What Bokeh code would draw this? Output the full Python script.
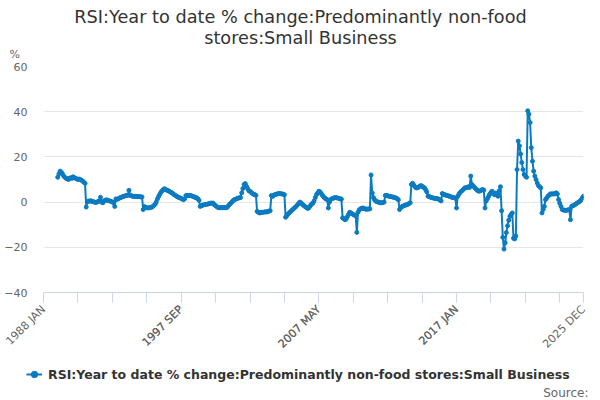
from math import pi
from bokeh.plotting import figure
from bokeh.layouts import column
from bokeh.models import Range1d, FixedTicker, Legend, LegendItem, Label
from bokeh.embed import file_html
from bokeh.resources import INLINE

series_name = "RSI:Year to date % change:Predominantly non-food stores:Small Business"
title_line1 = "RSI:Year to date % change:Predominantly non-food"
title_line2 = "stores:Small Business"

# monthly values, Jan..Dec
y1989 = [11.0, 12.5, 13.7, 13.2, 12.5, 11.5, 11.0, 10.5, 10.3, 10.0, 10.5, 10.8]
y1990 = [10.5, 11.2, 10.8, 10.5, 10.3, 10.0, 10.2, 10.0, 9.7, 9.3, 8.8, 8.3]
y1991 = [-2.2, 0.2, 0.5, 0.4, 0.6, 0.3, 0.2, 0.0, -0.2, 0.0, 0.3, 0.5]
y1992 = [2.1, 0.0, -0.3, 0.5, 0.8, 1.0, 0.8, 0.6, 0.5, 0.3, 0.0, -0.2]
y1993 = [-1.9, 1.4, 1.2, 1.5, 1.8, 2.0, 2.2, 2.5, 2.6, 2.8, 2.9, 3.0]
y1994 = [5.2, 3.0, 2.8, 2.6, 2.5, 2.6, 2.5, 2.4, 2.5, 2.4, 2.3, 2.3]
y1995 = [-3.3, -2.0, -2.3, -2.5, -2.6, -2.5, -2.4, -2.3, -2.0, -1.5, -1.0, 0.0]
y1996 = [1.4, 2.5, 3.5, 4.4, 5.0, 5.6, 5.9, 5.5, 5.3, 5.0, 4.8, 4.4]
y1997 = [4.2, 3.8, 3.3, 3.0, 2.6, 2.3, 2.0, 1.9, 1.6, 1.3, 1.1, 1.5]
y1998 = [2.9, 3.0, 2.9, 2.8, 2.9, 2.7, 2.5, 2.3, 2.0, 1.9, 1.5, 0.8]
y1999 = [-1.9, -1.6, -1.4, -1.2, -1.1, -1.0, -0.9, -0.8, -0.6, -0.5, -0.4, -0.5]
y2000 = [-1.2, -1.6, -2.0, -2.4, -2.5, -2.5, -2.4, -2.5, -2.4, -2.4, -2.5, -2.2]
y2001 = [-1.5, -0.8, -0.4, 0.2, 0.8, 1.1, 1.3, 1.5, 1.8, 1.9, 2.0, 4.1]
y2002 = [6.0, 7.8, 8.2, 7.0, 6.0, 5.0, 4.8, 4.3, 3.8, 3.5, 3.3, 3.0]
y2003 = [-4.1, -4.5, -4.8, -4.7, -4.5, -4.5, -4.4, -4.3, -4.4, -4.2, -4.0, -3.8]
y2004 = [2.9, 2.5, 3.0, 3.3, 3.5, 3.6, 3.8, 3.8, 3.7, 3.6, 3.5, 3.3]
y2005 = [-6.7, -6.0, -5.3, -4.8, -4.3, -3.8, -3.3, -2.8, -2.3, -1.8, -1.2, -0.6]
y2006 = [0.0, -0.4, -0.9, -1.4, -1.8, -2.2, -2.6, -2.8, -2.2, -1.5, -0.8, -0.5]
y2007 = [0.5, 2.0, 3.3, 4.0, 4.8, 4.5, 3.8, 3.0, 2.3, 1.8, 1.4, 1.1]
y2008 = [-2.6, 0.0, 1.1, 1.5, 1.7, 1.9, 2.0, 1.9, 1.8, 1.6, 1.5, 1.3]
y2009 = [-7.0, -7.3, -7.8, -7.5, -6.5, -5.5, -4.5, -4.8, -5.2, -5.5, -5.8, -6.0]
y2010 = [-13.4, -4.5, -3.5, -3.0, -2.8, -2.6, -2.8, -3.0, -3.2, -3.1, -3.0, -3.0]
y2011 = [12.0, 4.0, 2.0, 1.0, 0.4, 0.2, 0.0, -0.2, -0.3, -0.3, -0.2, 0.0]
y2012 = [2.9, 3.0, 2.8, 2.6, 2.5, 2.4, 2.3, 2.1, 2.0, 1.8, 1.5, 1.0]
y2013 = [-3.3, -2.5, -2.0, -1.8, -1.5, -1.3, -1.2, -1.0, -0.6, -0.3, 7.8, 8.3]
y2014 = [7.5, 6.8, 6.3, 6.3, 6.6, 7.0, 7.3, 7.0, 6.6, 6.3, 5.5, 4.5]
y2015 = [2.6, 2.5, 2.2, 2.0, 1.9, 1.7, 1.6, 1.5, 1.5, 1.3, 1.0, 0.5]
y2016 = [3.8, 3.5, 3.3, 3.1, 2.9, 2.8, 2.6, 2.4, 2.2, 2.0, 1.9, 1.8]
y2017 = [-2.6, 2.5, 3.5, 4.2, 4.8, 5.2, 5.8, 6.3, 6.3, 6.5, 6.8, 6.5]
y2018 = [11.5, 7.8, 7.2, 6.6, 6.0, 5.5, 5.0, 4.8, 5.0, 5.3, 5.6, 5.3]
y2019 = [-2.6, 0.5, 1.5, 2.5, 3.5, 4.3, 4.8, 3.8, 3.3, 4.0, 3.0, 2.6]
y2020 = [5.0, 6.8, -3.8, -15.6, -20.8, -18.0, -13.5, -10.5, -8.0, -6.3, -5.5, -4.8]
y2021 = [-16.0, -16.3, -15.0, 14.4, 27.0, 24.9, 21.3, 17.5, 14.4, 12.2, 11.5, 11.0]
y2022 = [40.4, 38.9, 35.2, 24.1, 18.1, 13.7, 11.5, 10.0, 8.5, 7.3, 6.8, 6.3]
y2023 = [-4.8, -3.3, -1.9, 1.1, 1.8, 2.6, 3.0, 3.6, 3.6, 3.6, 3.7, 3.6]
y2024 = [4.1, 3.6, 1.1, -0.5, -1.9, -3.3, -3.5, -3.6, -3.7, -3.6, -3.4, -3.3]
y2025 = [-7.8, -1.9, -1.6, -1.4, -1.0, -0.7, -0.3, 0.0, 0.4, 1.0, 1.9, 2.6]

years = list(range(1989, 2026))
yearly = [y1989, y1990, y1991, y1992, y1993, y1994, y1995, y1996, y1997, y1998,
          y1999, y2000, y2001, y2002, y2003, y2004, y2005, y2006, y2007, y2008,
          y2009, y2010, y2011, y2012, y2013, y2014, y2015, y2016, y2017, y2018,
          y2019, y2020, y2021, y2022, y2023, y2024, y2025]

# x = months since 1988 JAN
xs, ys = [], []
for yr, vals in zip(years, yearly):
    for i, v in enumerate(vals):
        xs.append((yr - 1988) * 12 + i)
        ys.append(v)

tick_months = [0, 116, 232, 348, 455]
tick_labels = ["1988 JAN", "1997 SEP", "2007 MAY", "2017 JAN", "2025 DEC"]
minor_months = list(range(29, 436, 29))

blue = "#0b7bc1"


def blank(h):
    f = figure(width=600, height=h, x_range=Range1d(0, 600), y_range=Range1d(0, h),
               output_backend="svg", toolbar_location=None, min_border=0,
               x_axis_location=None, y_axis_location=None, frame_align=False)
    f.grid.visible = False
    f.outline_line_color = None
    return f


# title strip
pt = blank(60)
pt.add_layout(Label(x=300, y=34, text=title_line1, text_align="center",
                    text_font="DejaVu Sans", text_font_size="17.7px", text_color="#333333"))
pt.add_layout(Label(x=300, y=13, text=title_line2, text_align="center",
                    text_font="DejaVu Sans", text_font_size="17.7px", text_color="#333333"))
pt.add_layout(Label(x=9, y=0, text="%", text_align="left",
                    text_font="DejaVu Sans", text_font_size="11px", text_color="#666666"))

# main chart
p = figure(width=600, height=302, x_range=Range1d(0, 455), y_range=Range1d(-40, 60),
           output_backend="svg", toolbar_location=None, frame_align=False,
           min_border_left=43, min_border_right=17, min_border_top=6, min_border_bottom=70)
p.outline_line_color = None
p.background_fill_color = "white"

p.line(xs, ys, line_color=blue, line_width=2)
p.scatter(xs, ys, size=4, fill_color=blue, line_color=blue)

p.xgrid.visible = False
p.ygrid.grid_line_color = "#e6e6e6"

p.yaxis.ticker = FixedTicker(ticks=[-40, -20, 0, 20, 40, 60])
p.yaxis.axis_line_color = None
p.yaxis.major_tick_line_color = None
p.yaxis.minor_tick_line_color = None
p.yaxis.major_label_text_font = "DejaVu Sans"
p.yaxis.major_label_text_font_size = "11px"
p.yaxis.major_label_text_color = "#666666"
p.yaxis.major_label_standoff = 10

p.xaxis.ticker = FixedTicker(ticks=sorted(tick_months + minor_months))
overrides = {m: "" for m in minor_months}
overrides.update(dict(zip(tick_months, tick_labels)))
p.xaxis.major_label_overrides = overrides
p.xaxis.axis_line_color = "#ccd6eb"
p.xaxis.major_tick_line_color = "#ccd6eb"
p.xaxis.major_tick_out = 10
p.xaxis.major_tick_in = 0
p.xaxis.minor_tick_line_color = None
p.xaxis.major_label_orientation = pi / 4
p.xaxis.major_label_text_font = "DejaVu Sans"
p.xaxis.major_label_text_font_size = "11px"
p.xaxis.major_label_text_color = "#666666"

# legend + source strip (legend renderers kept off-screen)
pl = blank(38)
ln2 = pl.line([-100, -90], [-100, -90], line_color=blue, line_width=2)
sc2 = pl.scatter([-100], [-100], size=4, fill_color=blue, line_color=blue)
legend = Legend(items=[LegendItem(label=series_name, renderers=[ln2, sc2])],
                location=(26, 18), orientation="horizontal")
legend.label_text_font = "DejaVu Sans"
legend.label_text_font_style = "bold"
legend.label_text_font_size = "12.5px"
legend.label_text_color = "#333333"
legend.border_line_color = None
legend.background_fill_alpha = 0
legend.glyph_width = 16
legend.glyph_height = 16
legend.label_standoff = 6
legend.margin = 0
legend.padding = 2
pl.add_layout(legend)

pl.add_layout(Label(x=588, y=1, text="Source:", text_align="right",
                    text_font="DejaVu Sans", text_font_size="12px", text_color="#666666"))

layout = column(pt, p, pl, spacing=0)

open("out.html", "w").write(file_html(layout, INLINE))
